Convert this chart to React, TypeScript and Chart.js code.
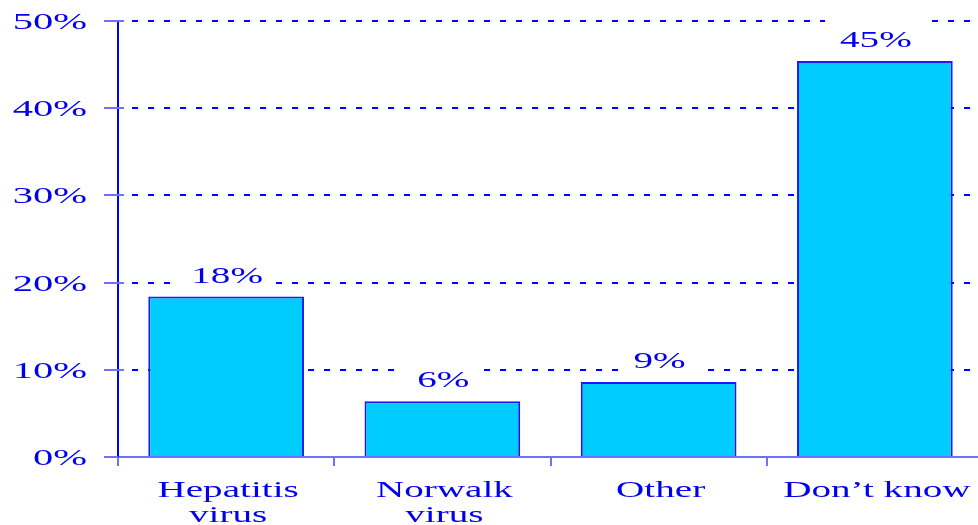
import React, { useEffect, useRef } from 'react';
import { Chart, registerables } from 'chart.js';

Chart.register(...registerables);

const categories: string[][] = [['Hepatitis', 'virus'], ['Norwalk', 'virus'], ['Other'], ['Don’t know']];
const values: number[] = [18.4, 6.4, 8.6, 45.4];
const valueLabels: string[] = ['18%', '6%', '9%', '45%'];
const yTickValues: number[] = [0, 10, 20, 30, 40, 50];
const yTickLabels: string[] = ['0%', '10%', '20%', '30%', '40%', '50%'];

const TEXT_COLOR = '#0000f0';
const LIGHT_BLUE = '#7070ff';
const FONT = '24px "Liberation Serif"';
const SX = 1.63;
const SX_Y = 1.69;

const stretchedTextPlugin = {
  id: 'stretchedText',
  afterDraw(chart: any) {
    const { ctx, chartArea, scales } = chart;
    const xs = scales.x;
    const ys = scales.y;
    const n = categories.length;
    const catW = (chartArea.right - chartArea.left) / n;

    const drawText = (text: string, px: number, py: number, align: CanvasTextAlign, sx: number) => {
      ctx.save();
      ctx.translate(px, py);
      ctx.scale(sx, 1);
      ctx.textAlign = align;
      ctx.textBaseline = 'alphabetic';
      ctx.fillText(text, 0, 0);
      ctx.restore();
    };

    ctx.save();
    ctx.font = FONT;
    ctx.fillStyle = TEXT_COLOR;

    // y tick marks (cross the axis slightly)
    ctx.strokeStyle = LIGHT_BLUE;
    ctx.lineWidth = 2;
    yTickValues.forEach((v) => {
      const py = Math.round(ys.getPixelForValue(v));
      ctx.beginPath();
      ctx.moveTo(chartArea.left - 14, py);
      ctx.lineTo(chartArea.left + (v === 0 ? 0 : 6), py);
      ctx.stroke();
    });

    // x tick marks at category boundaries
    for (let i = 0; i < n; i++) {
      const px = Math.round(chartArea.left + i * catW);
      ctx.beginPath();
      ctx.moveTo(px, chartArea.bottom);
      ctx.lineTo(px, chartArea.bottom + 9);
      ctx.stroke();
    }

    // y tick labels
    yTickValues.forEach((v, i) => {
      const py = ys.getPixelForValue(v);
      drawText(yTickLabels[i], chartArea.left - 31, py + 8, 'right', SX_Y);
    });

    // x labels
    categories.forEach((lines, i) => {
      const px = xs.getPixelForValue(i);
      lines.forEach((line, j) => {
        drawText(line, px + 2, chartArea.bottom + 40 + j * 25, 'center', SX);
      });
    });

    // data labels with white backing
    values.forEach((v, i) => {
      const px = xs.getPixelForValue(i);
      const top = ys.getPixelForValue(v);
      const base = top - 14;
      const w = ctx.measureText(valueLabels[i]).width * SX;
      ctx.fillStyle = '#ffffff';
      ctx.fillRect(px - w / 2 - 14, base - 30, w + 28, 36);
      ctx.fillStyle = TEXT_COLOR;
      drawText(valueLabels[i], px + 1, base, 'center', SX);
    });

    ctx.restore();
  },
};

export default function App() {
  const ref = useRef<HTMLCanvasElement | null>(null);

  useEffect(() => {
    document.body.style.margin = '0';
    const canvas = ref.current;
    if (!canvas) return;
    const chart = new Chart(canvas, {
      type: 'bar',
      data: {
        labels: categories.map((c) => c.join(' ')),
        datasets: [
          {
            data: values,
            backgroundColor: '#00ccff',
            borderColor: '#1a1aff',
            borderWidth: 2,
            categoryPercentage: 1,
            barPercentage: 0.72,
          },
        ],
      },
      options: {
        responsive: false,
        animation: false,
        devicePixelRatio: 1,
        layout: { padding: { left: 118, top: 21, right: 7, bottom: 68 } },
        plugins: { legend: { display: false }, tooltip: { enabled: false } },
        scales: {
          x: {
            type: 'category',
            grid: { display: false, drawTicks: false },
            ticks: { display: false },
            border: { display: true, color: LIGHT_BLUE, width: 2 },
          },
          y: {
            min: 0,
            max: 50,
            ticks: { display: false, stepSize: 10 },
            grid: {
              drawTicks: false,
              lineWidth: 2,
              color: (c: any) => (c.tick && c.tick.value === 0 ? 'rgba(0,0,0,0)' : '#0000ff'),
            },
            border: { display: true, color: '#0000ff', width: 2, dash: [6, 10], dashOffset: 3 },
          },
        },
      },
      plugins: [stretchedTextPlugin],
    });
    return () => chart.destroy();
  }, []);

  return (
    <div style={{ width: 978, height: 525, overflow: 'hidden', background: '#fff' }}>
      <canvas ref={ref} width={990} height={525} style={{ display: 'block' }} />
    </div>
  );
}
